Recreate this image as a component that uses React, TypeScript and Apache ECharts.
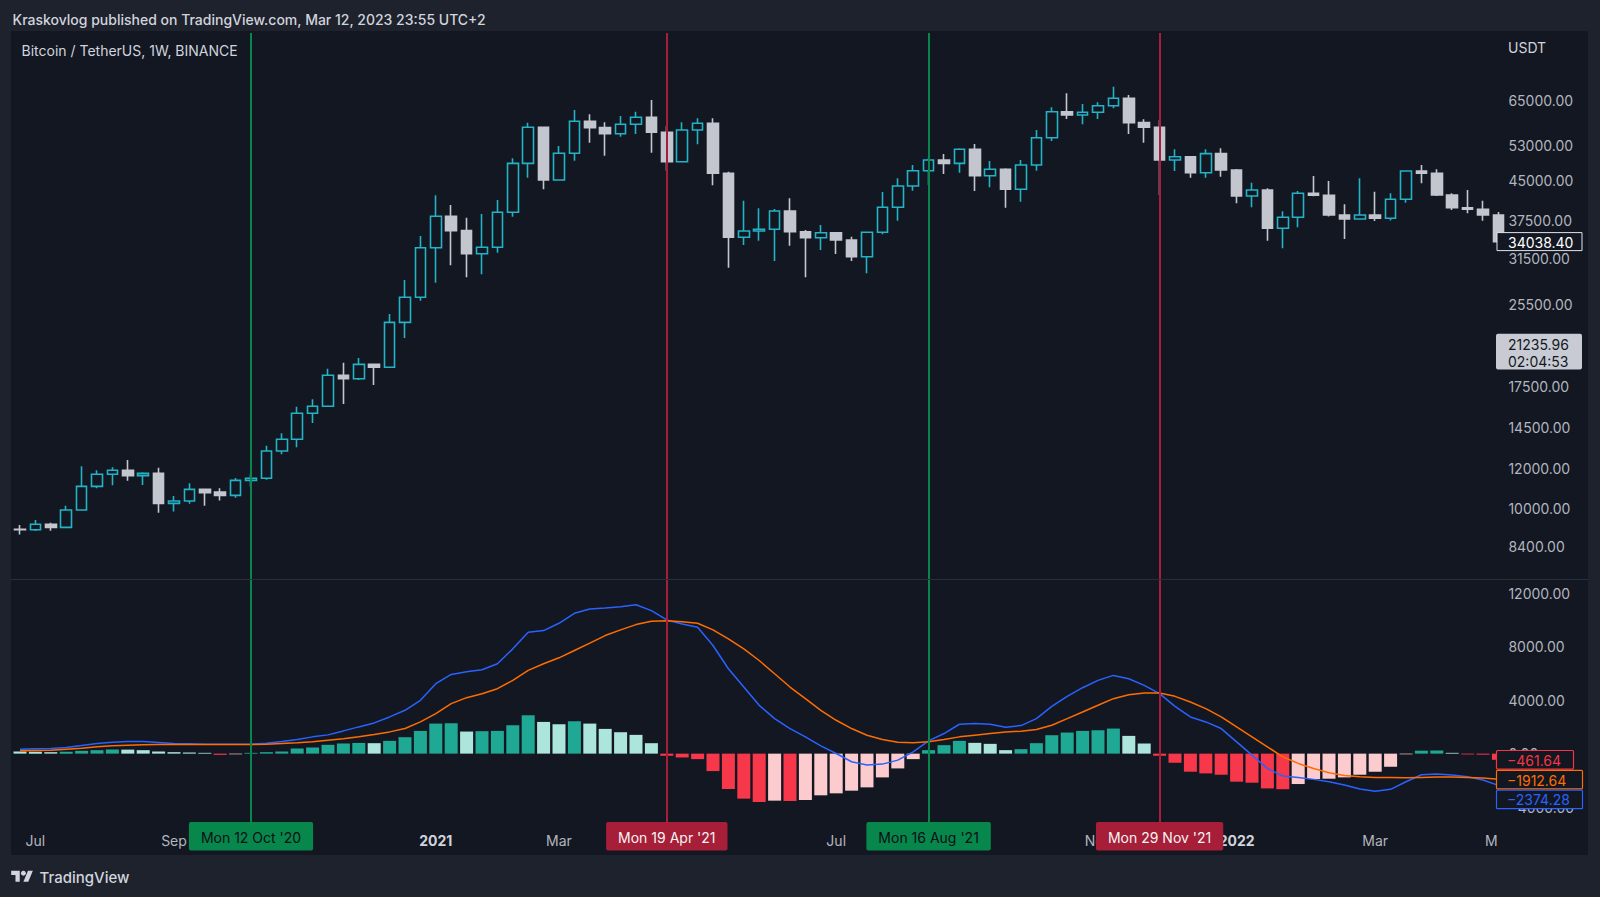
import React, { useEffect, useRef } from 'react';
import * as echarts from 'echarts';

// ---- weekly BTC/USDT candles (Mon 29 Jun 2020 ... Mon 2 May 2022) ----
const opens = [
  9090, 9070, 9300, 9170, 9930, 11070, 11700, 11920, 11630, 11750,
  10240, 10350, 10920, 10780, 10620, 11380, 11490, 13020, 13740, 15480,
  15990, 18430, 18140, 19380, 19120, 23500, 26360, 33100, 38230, 35790,
  32200, 33160, 38940, 48750, 57520, 45160, 51050, 59130, 57420, 55850,
  58320, 60220, 56220, 49110, 56810, 58590, 46570, 34720, 35740, 36020,
  39170, 35620, 34650, 35460, 34290, 31760, 35530, 39850, 43930, 47130,
  49500, 48750, 52000, 46060, 47430, 43270, 48380, 54840, 61780, 60860,
  61620, 63510, 65700, 58750, 57520, 49500, 50260, 46700, 50960, 47280,
  41960, 43140, 36180, 38060, 42490, 42100, 38460, 37760, 38460, 37880,
  41330, 47060, 46570, 42150, 39770, 39480, 38460,
];
const closes = [
  9070, 9300, 9170, 9930, 11070, 11700, 11920, 11630, 11750, 10240,
  10350, 10920, 10750, 10620, 11380, 11490, 13020, 13740, 15480, 15990,
  18430, 18140, 19380, 19120, 23500, 26360, 33100, 38230, 35790, 32200,
  33160, 38940, 48750, 57520, 45160, 51050, 59130, 57420, 55850, 58320,
  60220, 56220, 49110, 56810, 58590, 46570, 34720, 35740, 36020, 39170,
  35620, 34650, 35460, 34290, 31760, 35530, 39850, 43930, 47130, 49500,
  48750, 52000, 46060, 47430, 43270, 48380, 54840, 61780, 60860, 61620,
  63510, 65700, 58750, 57520, 49500, 50260, 46700, 50960, 47280, 41960,
  43140, 36180, 38060, 42490, 42100, 38460, 37760, 38460, 37880, 41330,
  47060, 46570, 42150, 39770, 39480, 38460, 34038.4,
];
const lows = [
  8880, 9020, 9030, 9130, 9900, 10970, 11120, 11360, 11140, 9810,
  9860, 10220, 10130, 10380, 10510, 11050, 11410, 12820, 13240, 14810,
  15960, 16160, 18040, 17630, 19060, 21870, 25950, 28190, 30530, 28890,
  29300, 32340, 38160, 45640, 43270, 45000, 49340, 53590, 50490, 55090,
  55770, 51190, 47130, 48990, 53200, 44070, 30200, 33510, 34180, 31140,
  33400, 28890, 32750, 32160, 31140, 29430, 35200, 37470, 43000, 44130,
  46420, 46700, 42940, 43670, 39770, 40880, 47130, 54010, 59750, 58320,
  59750, 62760, 55770, 53590, 42150, 47060, 45640, 45640, 45850, 40580,
  39850, 34180, 33010, 36350, 41900, 38200, 34450, 37700, 37410, 37500,
  40690, 44480, 41960, 39350, 38760, 37470, 33700,
];
const highs = [
  9270, 9490, 9370, 10130, 12140, 11920, 12080, 12490, 11810, 12060,
  10590, 11230, 10960, 10970, 11500, 11700, 13340, 14120, 15960, 16510,
  19000, 19530, 19950, 19450, 24420, 28540, 34920, 42100, 40260, 37990,
  38630, 41200, 49890, 58750, 57700, 52790, 62270, 61060, 58860, 60580,
  61780, 65190, 57870, 58860, 59950, 59950, 46900, 41060, 39660, 39530,
  41520, 35900, 36730, 35500, 34810, 35600, 42740, 45510, 48380, 49890,
  50890, 52240, 53270, 49280, 47640, 49500, 56810, 63040, 67230, 64010,
  64510, 69290, 66710, 59670, 59480, 52000, 50400, 52000, 52230, 47500,
  44600, 43500, 39120, 42940, 46000, 44950, 40390, 45510, 42800, 42490,
  47220, 48380, 47430, 42490, 43140, 41060, 39000,
];

// ---- MACD (12, 26, 9) ----
const macdLine = [
  335, 360, 385, 460, 610, 757, 857, 906, 906, 832,
  757, 733, 708, 708, 708, 708, 782, 906, 1055, 1254,
  1403, 1700, 1999, 2297, 2744, 3241, 3985, 5227, 5922, 6120,
  6270, 6716, 7834, 9075, 9200, 9746, 10490, 10811, 10886, 10985,
  11135, 10688, 9992, 9694, 9448, 8082, 6344, 4979, 3613, 2620,
  1875, 1254, 584, 12, -608, -857, -782, -484, 137, 956,
  1502, 2197, 2247, 2197, 1974, 2098, 2620, 3539, 4283, 4929,
  5475, 5848, 5600, 5103, 4482, 3539, 2744, 2371, 1875, 881,
  -112, -1105, -1676, -1775, -1924, -2098, -2346, -2645, -2818, -2669,
  -2098, -1577, -1527, -1602, -1726, -1974, -2374.28,
];
const signalLine = [
  211, 236, 261, 335, 410, 509, 584, 633, 658, 683,
  683, 683, 683, 683, 683, 683, 708, 757, 807, 881,
  1006, 1105, 1254, 1428, 1626, 1875, 2371, 2992, 3737, 4184,
  4482, 4855, 5475, 6220, 6716, 7163, 7710, 8256, 8827, 9250,
  9647, 9895, 9942, 9867, 9746, 9250, 8579, 7834, 6964, 5971,
  4979, 4110, 3241, 2495, 1875, 1378, 1055, 857, 807, 881,
  1055, 1254, 1378, 1502, 1626, 1676, 1800, 2123, 2620, 3117,
  3613, 4110, 4408, 4532, 4532, 4283, 3861, 3365, 2744, 1999,
  1254, 509, -236, -732, -1105, -1428, -1626, -1726, -1775, -1775,
  -1800, -1775, -1750, -1750, -1775, -1825, -1912.64,
];
const histogram = [
  160, 135, 110, 135, 210, 260, 310, 300, 260, 160,
  110, 85, 60, -90, -50, 60, 110, 160, 385, 460,
  660, 760, 800, 782, 956, 1229, 1700, 2247, 2272, 1650,
  1680, 1700, 2123, 2868, 2371, 2197, 2421, 2247, 1850, 1602,
  1403, 782, -161, -286, -410, -1304, -2645, -3365, -3613, -3514,
  -3538, -3464, -3116, -2967, -2769, -2520, -1775, -1105, -410, 261,
  633, 956, 807, 732, 261, 335, 782, 1378, 1577, 1700,
  1750, 1875, 1328, 757, -161, -683, -1353, -1477, -1577, -2098,
  -2173, -2600, -2660, -2272, -1900, -1875, -1775, -1577, -1353, -981,
  -50, 220, 235, 60, -60, -75, -461.64,
];

// ---- axes / annotations ----
const priceTicks = [8400, 10000, 12000, 14500, 17500, 21000, 25500, 31500, 37500, 45000, 53000, 65000];
const macdTicks = [-4000, 0, 4000, 8000, 12000];
const timeIdx = [1, 10, 18, 27, 35, 44, 53, 62, 70, 79, 88, 96];
const timeLabels = ['Jul', 'Sep', 'Nov', '2021', 'Mar', 'May', 'Jul', 'Sep', 'Nov', '2022', 'Mar', 'May'];
const markerIdx = [15, 42, 59, 74];
const markerLabels = ["Mon 12 Oct '20", "Mon 19 Apr '21", "Mon 16 Aug '21", "Mon 29 Nov '21"];
const markerSide = ['buy', 'sell', 'buy', 'sell'];
const currentPrice = 21235.96;
const countdown = '02:04:53';

const FONT = 'Inter, "Noto Sans", Roboto, sans-serif';
const BG = '#131722';
const TEXT = '#d1d4dc';
const AXIS_TEXT = '#b2b5be';
const UP = '#22b3c6';
const DOWN = '#c3c6ce';
const GREEN = '#07874b';
const RED = '#a61e37';
const BLUE = '#2962ff';
const ORANGE = '#ff6d00';
const HRED = '#f23645';

const X_MIN = -0.5;
const X_MAX = 96;
const fmt = (v: number) => (v < 0 ? '\u2212' : '') + Math.abs(v).toFixed(2);

function histColor(i: number): string {
  const v = histogram[i];
  const rising = i > 0 && v > histogram[i - 1];
  if (v >= 0) return rising ? '#1fa894' : '#ace5dc';
  return rising ? '#fccbcd' : '#f7374a';
}

export default function App() {
  const ref = useRef<HTMLDivElement>(null);

  useEffect(() => {
    const el = ref.current;
    if (!el) return;
    const chart = echarts.init(el, null, { renderer: 'svg' });

    const candleData = opens.map((o, i) => [i, o, closes[i], lows[i], highs[i]]);

    const option: any = {
      animation: false,
      backgroundColor: 'transparent',
      textStyle: { fontFamily: FONT },
      grid: [
        { left: 12.3, top: 33, width: 1486.1, height: 546, containLabel: false, outerBoundsMode: 'none' },
        { left: 12.3, top: 580, width: 1486.1, height: 242, containLabel: false, outerBoundsMode: 'none' },
      ],
      xAxis: [
        { type: 'value', gridIndex: 0, min: X_MIN, max: X_MAX, show: false },
        {
          type: 'value', gridIndex: 1, min: X_MIN, max: X_MAX,
          axisLine: { show: false }, axisTick: { show: false }, splitLine: { show: false },
          axisLabel: {
            customValues: timeIdx,
            margin: 11,
            color: AXIS_TEXT,
            fontSize: 14,
            fontFamily: FONT,
            formatter: (v: number) => {
              const k = timeIdx.indexOf(Math.round(v));
              if (k < 0) return '';
              const t = timeLabels[k];
              if (/^\d{4}$/.test(t)) return `{y|${t}}`;
              if (k === timeIdx.length - 1) return `{c|${t.charAt(0)}}`;
              return t;
            },
            rich: {
              y: { fontWeight: 'bold', color: TEXT, fontSize: 14, fontFamily: FONT },
              c: { color: AXIS_TEXT, fontSize: 14, fontFamily: FONT, padding: [0, 14, 0, 0] },
            },
          },
        },
      ],
      yAxis: [
        {
          type: 'log', logBase: 10, gridIndex: 0, position: 'right', min: 7236, max: 88660,
          axisLine: { show: false }, axisTick: { show: false }, splitLine: { show: false },
          axisLabel: {
            customValues: priceTicks, margin: 10, color: AXIS_TEXT, fontSize: 14, fontFamily: FONT,
            formatter: (v: number) => fmt(v),
          },
        },
        {
          type: 'value', gridIndex: 1, position: 'right', min: -5110, max: 12980,
          axisLine: { show: false }, axisTick: { show: false }, splitLine: { show: false },
          axisLabel: {
            customValues: macdTicks, margin: 10, color: AXIS_TEXT, fontSize: 14, fontFamily: FONT,
            formatter: (v: number) => fmt(v),
          },
        },
      ],
      series: [
        {
          type: 'candlestick', xAxisIndex: 0, yAxisIndex: 0,
          data: candleData, barWidth: 11,
          itemStyle: { color: BG, color0: DOWN, borderColor: UP, borderColor0: DOWN, borderWidth: 1.6 },
          markLine: {
            silent: true, symbol: ['none', 'none'], animation: false,
            label: { show: false },
            data: markerIdx.map((x, k) => ({
              xAxis: x,
              lineStyle: { color: markerSide[k] === 'buy' ? GREEN : RED, width: 2, type: 'solid' },
            })),
          },
          z: 3,
        },
        {
          type: 'bar', xAxisIndex: 1, yAxisIndex: 1, barWidth: 13,
          data: histogram.map((v, i) => ({ value: [i, v], itemStyle: { color: histColor(i) } })),
          markLine: {
            silent: true, symbol: ['none', 'none'], animation: false,
            data: markerIdx.map((x, k) => ({
              xAxis: x,
              lineStyle: { color: markerSide[k] === 'buy' ? GREEN : RED, width: 2, type: 'solid' },
              label: {
                show: true, position: 'start', distance: 0,
                formatter: markerLabels[k],
                backgroundColor: markerSide[k] === 'buy' ? GREEN : RED,
                color: markerSide[k] === 'buy' ? '#0c0f16' : '#f4f4f6',
                fontSize: 14, fontFamily: FONT,
                padding: [8.5, 12, 6, 12], borderRadius: 2,
              },
            })),
          },
        },
        {
          type: 'line', xAxisIndex: 1, yAxisIndex: 1, symbol: 'none',
          data: macdLine.map((v, i) => [i, v]),
          lineStyle: { color: BLUE, width: 1.5 }, z: 4,
        },
        {
          type: 'line', xAxisIndex: 1, yAxisIndex: 1, symbol: 'none',
          data: signalLine.map((v, i) => [i, v]),
          lineStyle: { color: ORANGE, width: 1.5 }, z: 4,
        },
      ],
    };
    chart.setOption(option);

    // ---- overlay texts and value boxes ----
    const py = (v: number) => (chart.convertToPixel({ gridIndex: 0 }, [0, v]) as number[])[1];
    const my = (v: number) => (chart.convertToPixel({ gridIndex: 1 }, [0, v]) as number[])[1];

    const g: any[] = [];
    const txt = (x: number, y: number, text: string, fill: string, size = 14, weight: any = 'normal', extra: any = {}) => ({
      type: 'text', x, y, z: 60, silent: true,
      style: { text, fill, fontSize: size, fontWeight: weight, fontFamily: FONT, align: 'left', verticalAlign: 'middle', ...extra },
    });

    g.push(txt(12.5, 19, 'Kraskovlog published on TradingView.com, Mar 12, 2023 23:55 UTC+2', TEXT, 14, 500));
    g.push(txt(21.5, 50.5, 'Bitcoin / TetherUS, 1W, BINANCE', TEXT, 14));
    g.push(txt(1508, 47, 'USDT', TEXT, 14));
    g.push({ type: 'line', z: 40, silent: true, shape: { x1: 11, y1: 579.5, x2: 1588, y2: 579.5 }, style: { stroke: '#2a2e39', lineWidth: 1 } });

    // last price box
    const lastClose = closes[closes.length - 1];
    const yl = py(lastClose);
    g.push({ type: 'rect', z: 55, silent: true, shape: { x: 1497, y: yl - 9, width: 85, height: 18 }, style: { fill: BG, stroke: '#e0e3eb', lineWidth: 1 } });
    g.push(txt(1508, yl + 0.5, fmt(lastClose), '#ffffff', 14));

    // current price + countdown box
    const yc = py(currentPrice);
    g.push({ type: 'rect', z: 55, silent: true, shape: { x: 1496, y: yc - 10.7, width: 86, height: 35.7, r: 2 }, style: { fill: '#c8cbd3' } });
    g.push(txt(1508, yc, fmt(currentPrice), '#131722', 14));
    g.push(txt(1508, yc + 17, countdown, '#131722', 14));

    // MACD last-value boxes, stacked to avoid overlap
    const boxes = [
      { v: histogram[histogram.length - 1], c: HRED, w: 77 },
      { v: signalLine[signalLine.length - 1], c: ORANGE, w: 86 },
      { v: macdLine[macdLine.length - 1], c: BLUE, w: 86 },
    ].map((b) => ({ ...b, y: my(b.v) }));
    boxes.sort((a, b) => a.y - b.y);
    for (let k = 1; k < boxes.length; k++) {
      if (boxes[k].y < boxes[k - 1].y + 19.8) boxes[k].y = boxes[k - 1].y + 19.8;
    }
    boxes.forEach((b) => {
      g.push({ type: 'rect', z: 55, silent: true, shape: { x: 1496.5, y: b.y - 9.3, width: b.w, height: 18.6, r: 1 }, style: { fill: BG, stroke: b.c, lineWidth: 1.2 } });
      g.push(txt(1507, b.y + 0.5, fmt(b.v), b.c, 14));
    });

    // footer logo + name
    const s = 0.61, ox = 11.2, oy = 868.3;
    const P = (pts: number[][]) => pts.map(([x, y]) => [ox + x * s, oy + y * s]);
    g.push({ type: 'polygon', z: 60, silent: true, shape: { points: P([[0, 4], [14, 4], [14, 22], [7, 22], [7, 11], [0, 11]]) }, style: { fill: TEXT } });
    g.push({ type: 'polygon', z: 60, silent: true, shape: { points: P([[20, 22], [27.5, 4], [35.5, 4], [28, 22]]) }, style: { fill: TEXT } });
    g.push({ type: 'circle', z: 60, silent: true, shape: { cx: ox + 20 * s, cy: oy + 8 * s, r: 4 * s }, style: { fill: TEXT } });
    g.push(txt(39.5, 877, 'TradingView', TEXT, 15, 500));

    chart.setOption({ graphic: g });

    return () => chart.dispose();
  }, []);

  return (
    <div style={{ position: 'fixed', left: 0, top: 0, width: 1600, height: 897, background: '#1e222d', overflow: 'hidden' }}>
      <div style={{ position: 'absolute', left: 11, top: 31, width: 1577, height: 824, background: BG }} />
      <div ref={ref} style={{ position: 'absolute', left: 0, top: 0, width: 1600, height: 897 }} />
    </div>
  );
}
